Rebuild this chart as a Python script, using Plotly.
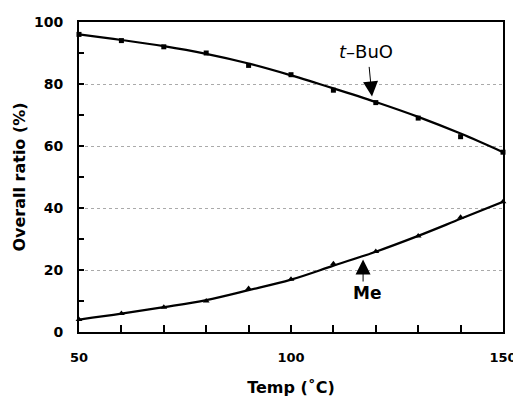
import plotly.graph_objects as go

temps = [50, 60, 70, 80, 90, 100, 110, 120, 130, 140, 150]
tbuo = [96, 94, 92, 90, 86, 83, 78, 74, 69, 63, 58]
me = [4, 6, 8, 10, 14, 17, 22, 26, 31, 37, 42]
# smooth fitted curves
tbuo_fit = [96, 94.2, 92.2, 89.7, 86.6, 82.8, 78.6, 74.2, 69.4, 64.0, 58]
me_fit = [4, 5.9, 8.0, 10.3, 13.5, 16.9, 21.4, 25.9, 31.0, 36.5, 42]

xticks = [50, 100, 150]
yticks = [0, 20, 40, 60, 80, 100]

FONT = "DejaVu Sans"

fig = go.Figure()
for fit in (tbuo_fit, me_fit):
    fig.add_trace(go.Scatter(
        x=temps, y=fit, mode="lines",
        line=dict(color="black", width=2.2, shape="spline", smoothing=1.0),
        showlegend=False, cliponaxis=False, hoverinfo="skip"))
fig.add_trace(go.Scatter(
    x=temps, y=tbuo, mode="markers",
    marker=dict(symbol="square", size=5, color="black"),
    showlegend=False, cliponaxis=False))
fig.add_trace(go.Scatter(
    x=temps, y=me, mode="markers",
    marker=dict(symbol="triangle-up", size=6, color="black"),
    showlegend=False, cliponaxis=False))

# labels
fig.add_annotation(x=117.7, y=90.5, text="<i>t</i>–BuO", showarrow=False,
                   font=dict(family=FONT, size=18, color="black"))
fig.add_annotation(x=119.1, y=76.0, ax=118.4, ay=86.0, axref="x", ayref="y",
                   text="", showarrow=True, arrowhead=2, arrowsize=3,
                   arrowwidth=1, arrowcolor="black")
fig.add_annotation(x=117.9, y=12.6, text="<b>Me</b>", showarrow=False,
                   font=dict(family=FONT, size=17, color="black"))
fig.add_annotation(x=117.0, y=23.4, ax=117.0, ay=15.8, axref="x", ayref="y",
                   text="", showarrow=True, arrowhead=2, arrowsize=3,
                   arrowwidth=1, arrowcolor="black")

fig.update_layout(
    width=513, height=389,
    margin=dict(l=71, r=18, t=14, b=65),
    paper_bgcolor="white", plot_bgcolor="white",
    font=dict(family=FONT, color="black"),
    xaxis=dict(
        range=[50, 150], tickvals=xticks,
        ticktext=[f"<b>{v}</b>" for v in xticks],
        ticks="inside", ticklen=0, showgrid=False, zeroline=False,
        showline=True, linecolor="black", linewidth=2, mirror=True,
        minor=dict(dtick=10, tick0=50, ticks="inside", ticklen=7, tickcolor="black", tickwidth=1.5),
        tickfont=dict(family=FONT, size=13, color="black"),
        ticklabelstandoff=12, automargin=False,
        title=dict(text="<b>Temp (˚C)</b>", font=dict(family=FONT, size=16), standoff=22),
    ),
    yaxis=dict(
        range=[0, 100], tickvals=yticks,
        ticktext=[f"<b>{v}</b>" for v in yticks],
        ticks="inside", ticklen=5, tickcolor="black", tickwidth=1.5,
        showgrid=True, gridcolor="#aaaaaa", griddash="dot", gridwidth=1,
        zeroline=False,
        showline=True, linecolor="black", linewidth=2, mirror=True,
        minor=dict(dtick=10, tick0=0, ticks="inside", ticklen=5, tickcolor="black", tickwidth=1.5),
        tickfont=dict(family=FONT, size=14, color="black"),
        ticklabelstandoff=11, automargin=False,
        title=dict(text="<b>Overall ratio (%)</b>", font=dict(family=FONT, size=16), standoff=4),
    ),
)

fig.write_html(
    "out.html",
    post_script="document.documentElement.style.overflow='hidden';document.body.style.overflow='hidden';",
)
